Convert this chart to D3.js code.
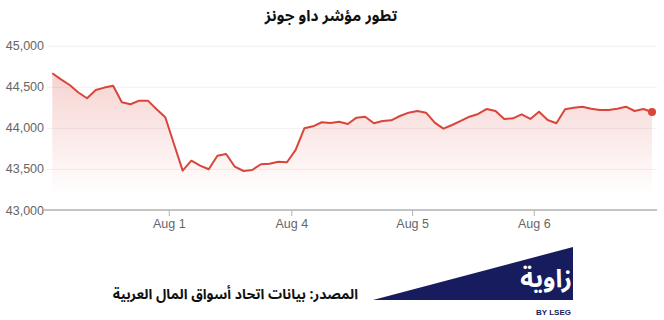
<!DOCTYPE html>
<html>
<head>
<meta charset="utf-8">
<script src="https://cdn.jsdelivr.net/npm/d3@7"></script>
<style>
  body { margin: 0; background: #fff; }
  svg { display: block; }
  .axis text { font-family: "Liberation Sans", Arial, sans-serif; font-size: 12.5px; fill: #666; }
</style>
</head>
<body>
<div id="chart"></div>
<script>
// Dow Jones intraday values (30 min steps, Jul 31 -> Aug 6)
var dowValues = [
  44664, 44590, 44522, 44430, 44360, 44461, 44490, 44513, 44311, 44287, 44331, 44331, 44226, 44129,
  43804, 43479, 43600, 43540, 43496, 43661, 43682, 43527, 43475, 43487, 43557, 43564, 43588, 43581,
  43731, 43995, 44019, 44068, 44059, 44075, 44047, 44124, 44136, 44056, 44084, 44092, 44144, 44185,
  44205, 44185, 44063, 43990, 44035, 44084, 44136, 44169, 44230, 44205, 44108, 44116, 44165, 44108,
  44197, 44096, 44056, 44226, 44245, 44258, 44233, 44217, 44217, 44233, 44258, 44205, 44230, 44193
];
var dayLabels = ["Aug 1", "Aug 4", "Aug 5", "Aug 6"];
var dayTickIdx = [13.4, 27.5, 41.4, 55.4];
var yTicks = [43000, 43500, 44000, 44500, 45000];

var titleText = "تطور مؤشر داو جونز";
var sourceText = "المصدر: بيانات اتحاد أسواق المال العربية";

var width = 664, height = 320;
var plotLeft = 47, plotRight = 657;

var svg = d3.select("#chart").append("svg")
    .attr("width", width)
    .attr("height", height);

// scales
var x = d3.scaleLinear().domain([0, dowValues.length - 1]).range([52.3, 652]);
var y = d3.scaleLinear().domain([43000, 45000]).range([210, 45.7]);

// gradient under the line
var grad = svg.append("defs").append("linearGradient")
    .attr("id", "areaFill")
    .attr("gradientUnits", "userSpaceOnUse")
    .attr("x1", 0).attr("x2", 0)
    .attr("y1", 60).attr("y2", 195);
grad.append("stop").attr("offset", 0).attr("stop-color", "#d9453a").attr("stop-opacity", 0.26);
grad.append("stop").attr("offset", 1).attr("stop-color", "#d9453a").attr("stop-opacity", 0);

// y grid + labels
var yAxis = svg.append("g")
    .attr("class", "axis")
    .attr("transform", "translate(" + plotLeft + ",0)")
    .call(d3.axisLeft(y).tickValues(yTicks).tickFormat(d3.format(",")).tickSize(-(plotRight - plotLeft)).tickPadding(3));
yAxis.select(".domain").remove();
yAxis.selectAll(".tick line").attr("stroke", "#f0f0f0");

// area + line
var area = d3.area()
    .x(function(d, i) { return x(i); })
    .y0(y(43000))
    .y1(function(d) { return y(d); });
svg.append("path")
    .datum(dowValues)
    .attr("d", area)
    .attr("fill", "url(#areaFill)");

var line = d3.line()
    .x(function(d, i) { return x(i); })
    .y(function(d) { return y(d); });
svg.append("path")
    .datum(dowValues)
    .attr("d", line)
    .attr("fill", "none")
    .attr("stroke", "#d9453a")
    .attr("stroke-width", 2)
    .attr("stroke-linejoin", "round");

// last point marker
var lastIdx = dowValues.length - 1;
svg.append("circle")
    .attr("cx", x(lastIdx))
    .attr("cy", y(dowValues[lastIdx]))
    .attr("r", 4)
    .attr("fill", "#d9453a");

// x axis
var xAxis = svg.append("g")
    .attr("class", "axis")
    .attr("transform", "translate(0," + y(43000) + ")")
    .call(d3.axisBottom(x).tickValues(dayTickIdx)
        .tickFormat(function(d, i) { return dayLabels[i]; })
        .tickSize(6).tickPadding(3).tickSizeOuter(0));
xAxis.select(".domain")
    .attr("d", "M44,0H" + plotRight)
    .attr("stroke", "#b3b3b3")
    .attr("stroke-width", 1.5);
xAxis.selectAll(".tick line").attr("stroke", "#b3b3b3");

// title
svg.append("text")
    .attr("x", 331)
    .attr("y", 21)
    .attr("text-anchor", "middle")
    .style("font-family", "'Noto Sans Arabic', 'DejaVu Sans', sans-serif")
    .style("font-weight", "bold")
    .style("font-size", "15.5px")
    .style("fill", "#111")
    .text(titleText);

// source
svg.append("text")
    .attr("x", 358)
    .attr("y", 299)
    .attr("text-anchor", "end")
    .style("font-family", "'Noto Sans Arabic', 'DejaVu Sans', sans-serif")
    .style("font-weight", "bold")
    .style("font-size", "14px")
    .style("fill", "#111")
    .text(sourceText);

// logo
svg.append("path")
    .attr("d", "M373,300L573,247L573,300Z")
    .attr("fill", "#161c5e");
svg.append("text")
    .attr("x", 572)
    .attr("y", 287)
    .attr("text-anchor", "end")
    .style("font-family", "'Noto Sans Arabic', 'DejaVu Sans', sans-serif")
    .style("font-weight", "bold")
    .style("font-size", "25px")
    .style("fill", "#fff")
    .text("زاوية");
svg.append("text")
    .attr("x", 571)
    .attr("y", 315)
    .attr("text-anchor", "end")
    .style("font-family", "'Liberation Sans', Arial, sans-serif")
    .style("font-weight", "bold")
    .style("font-size", "8px")
    .style("fill", "#161c5e")
    .text("BY LSEG");
</script>
</body>
</html>
